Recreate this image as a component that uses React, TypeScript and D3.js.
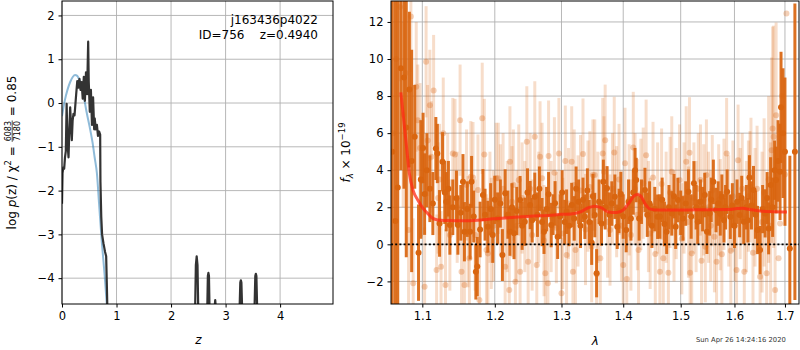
import { useEffect, useRef } from "react";
import * as d3 from "d3";

// ---- p(z) panel ----
const zVals = [0, 0.01, 0.025, 0.04, 0.055, 0.07, 0.085, 0.1, 0.12, 0.135, 0.15, 0.165, 0.18, 0.195, 0.21, 0.23, 0.26, 0.28, 0.3, 0.32, 0.34, 0.36, 0.38, 0.4, 0.42, 0.44, 0.46, 0.48, 0.49, 0.51, 0.53, 0.55, 0.57, 0.59, 0.6, 0.62, 0.64, 0.66, 0.68, 0.7, 0.705, 0.72, 0.735, 0.76, 0.79, 0.81, 0.825, 0.84, 1.5,
  2.435, 2.455, 2.47, 2.485, 2.505, 2.58, 2.66, 2.675, 2.685, 2.695, 2.71, 2.76, 2.795, 2.81, 2.825, 2.9, 3.25, 3.27, 3.28, 3.29, 3.31, 3.42, 3.525, 3.545, 3.555, 3.565, 3.585, 4.0];
const logPz = [-2.3, -1.6, -1.47, -1.5, -1.24, -1.1, -0.02, -0.9, -1.24, -0.6, -0.1, -0.5, -0.85, -0.4, -0.25, -0.28, 0.2, 0.5, 0.35, 0.55, 0.3, 0.48, 0.1, 0.6, 0.05, 0.7, 0.2, 1.4, 0.5, -0.2, 0.3, -0.5, 0.13, -0.6, -0.35, -0.6, -0.5, -0.75, -0.65, -0.72, -1.8, -2.6, -3.0, -3.2, -3.4, -3.5, -4.3, -5.2, -7,
  -5.2, -3.7, -3.5, -3.7, -5.2, -7, -5.0, -3.95, -3.88, -3.95, -5.0, -7, -4.75, -4.5, -4.75, -7, -5.0, -4.1, -4.05, -4.1, -5.0, -7, -5.0, -3.95, -3.9, -3.95, -5.0, -7];
const zPrior = [0, 0.05, 0.1, 0.15, 0.2, 0.24, 0.28, 0.32, 0.36, 0.4, 0.45, 0.51, 0.56, 0.6, 0.64, 0.68, 0.73, 0.78, 0.82, 0.86];
const logPzPrior = [-0.3, 0.05, 0.3, 0.48, 0.6, 0.64, 0.62, 0.52, 0.4, 0.15, -0.2, -0.56, -0.9, -1.25, -1.6, -2.3, -3.17, -3.9, -4.57, -5.2];
const zTicks = [0, 1, 2, 3, 4];
const pzTicks = [-4, -3, -2, -1, 0, 1, 2];

// ---- spectrum panel ----
const darkLam = [1.061, 1.065, 1.068, 1.072, 1.076, 1.079, 1.083, 1.086, 1.09, 1.095, 1.098, 1.101, 1.103, 1.106, 1.11, 1.114, 1.118, 1.12, 1.123, 1.127, 1.13, 1.132, 1.135, 1.137, 1.141, 1.146, 1.148, 1.152, 1.155, 1.157, 1.161, 1.165, 1.167, 1.17, 1.173, 1.175, 1.179, 1.183, 1.186, 1.19, 1.194, 1.197, 1.2, 1.204, 1.208, 1.211, 1.215, 1.219, 1.222, 1.225, 1.228, 1.232, 1.237, 1.24, 1.244, 1.248, 1.252, 1.255, 1.259, 1.263, 1.266, 1.27, 1.273, 1.277, 1.28, 1.284, 1.287, 1.29, 1.294, 1.298, 1.301, 1.305, 1.308, 1.312, 1.316, 1.32, 1.323, 1.327, 1.33, 1.334, 1.337, 1.341, 1.344, 1.348, 1.35, 1.353, 1.356, 1.36, 1.364, 1.367, 1.37, 1.373, 1.377, 1.381, 1.386, 1.39, 1.393, 1.396, 1.4, 1.405, 1.409, 1.413, 1.417, 1.42, 1.422, 1.427, 1.431, 1.437, 1.441, 1.445, 1.449, 1.454, 1.459, 1.463, 1.467, 1.471, 1.475, 1.479, 1.484, 1.488, 1.491, 1.495, 1.5, 1.504, 1.509, 1.514, 1.519, 1.524, 1.528, 1.531, 1.536, 1.54, 1.544, 1.548, 1.553, 1.556, 1.56, 1.565, 1.569, 1.573, 1.576, 1.58, 1.583, 1.586, 1.592, 1.596, 1.6, 1.605, 1.61, 1.614, 1.618, 1.623, 1.626, 1.629, 1.633, 1.637, 1.641, 1.645, 1.65, 1.655, 1.66, 1.664, 1.667, 1.671, 1.675, 1.679, 1.682, 1.686, 1.69, 1.692, 1.696, 1.7, 1.71, 1.7204];
const darkFlux = [5, 1.26, 3.07, 9.5, 9, 6.3, 8.35, 4.5, 5.8, -0.45, 3.5, 5.2, 2.71, 4, 3, 2.2, 5.17, 4.9, 1.13, 4.45, 2.8, 2.3, 3, 1.04, 2, 2.48, 1.04, 1.7, 3.37, 0.68, 1.9, 0.68, 3.37, 1.5, -1.48, -1.2, 0.8, 2.66, 1.6, 0.95, 1.9, 0.5, 2.4, 1.4, 2.2, -0.58, 2.75, 1.6, 0.68, 2, 0.6, 1.8, 2.39, 1, 1.22, 2.8, 2.12, 1.3, 2.57, 1.6, 3, 1.2, 0.68, 1.9, 2.7, 1.04, 1.6, 2.21, 0.41, 1.5, 2.8, 1.2, 1.76, 1, 2.12, 1.4, 3, 2.3, 1, 2.4, 1.49, 2.9, 1.2, 0.09, 2.6, 1.58, -1.56, 2.3, 1.13, 3.37, 2, 3.02, 1.6, 2.2, 2.57, 0.95, 1.8, 2.71, 1.5, 0.77, 2.3, 1.4, 2.8, 4, 3.47, 1.4, 2.3, 2.93, 1.6, 2.2, 1, 1.9, 1.49, 1.5, 2.4, 1.1, 0.68, 2, 1.67, 2.6, 0.95, 2.39, 1.7, 1.4, 2.2, 2.84, 1.5, 3.29, 2, 1.22, 2.3, 1.9, 2.66, 0.68, 1.67, 2.4, 3.37, 1.85, 2.2, 1.67, 2.57, 1.3, 2, 2.84, 1.49, 2.1, 1, 2.3, 1.58, 2.5, 1.22, 2, 1.3, 3.61, 2.1, 2.93, 1.6, 0.77, -0.31, 1.9, 1.67, 2.5, 0.86, 3.2, 2, 4, 3.47, 4.5, 3.91, 7.39, 6, 5, -0.22, 5];
const darkErr = [10, 14, 12, 5.5, 6, 7, 4.2, 6, 2.8, 2.6, 3.2, 1.9, 2.2, 2, 1.8, 1.7, 1.7, 1.6, 1.8, 1.6, 1.7, 1.6, 1.5, 1.6, 1.5, 1.5, 1.6, 1.5, 1.5, 1.6, 1.5, 1.5, 1.4, 1.4, 1.5, 1.6, 1.5, 1.4, 1.4, 1.4, 1.4, 1.5, 1.3, 1.4, 1.3, 1.4, 1.3, 1.3, 1.3, 1.3, 1.4, 1.3, 1.3, 1.3, 1.3, 1.3, 1.3, 1.2, 1.3, 1.2, 1.2, 1.3, 1.2, 1.2, 1.2, 1.2, 1.1, 1.2, 1.2, 1.2, 1.2, 1.2, 1.2, 1.1, 1.2, 1.2, 1.2, 1.2, 1.2, 1.2, 1.2, 1.2, 1.2, 1.2, 1.2, 1.2, 1.3, 1.2, 1.2, 1.2, 1.2, 1.2, 1.2, 1.2, 1.2, 1.2, 1.2, 1.2, 1.2, 1.2, 1.2, 1.2, 1.2, 1.2, 1.2, 1.2, 1.2, 1.2, 1.2, 1.2, 1.2, 1.2, 1.2, 1.2, 1.2, 1.2, 1.2, 1.2, 1.2, 1.2, 1.2, 1.2, 1.2, 1.2, 1.2, 1.2, 1.2, 1.2, 1.2, 1.2, 1.2, 1.2, 1.2, 1.2, 1.2, 1.2, 1.2, 1.2, 1.2, 1.2, 1.2, 1.2, 1.2, 1.2, 1.2, 1.2, 1.2, 1.2, 1.2, 1.2, 1.2, 1.2, 1.2, 1.2, 1.3, 1.3, 1.3, 1.3, 1.3, 1.3, 1.3, 1.4, 1.4, 1.5, 1.6, 1.6, 1.8, 2.2, 2.6, 3, 3.5, 4, 5, 8, 15, 2.8, 20];

const lightLam = [1.062, 1.066, 1.071, 1.075, 1.078, 1.082, 1.085, 1.088, 1.092, 1.094, 1.097, 1.099, 1.103, 1.105, 1.107, 1.11, 1.112, 1.115, 1.119, 1.121, 1.123, 1.125, 1.128, 1.131, 1.134, 1.137, 1.141, 1.144, 1.147, 1.151, 1.153, 1.157, 1.16, 1.162, 1.164, 1.166, 1.169, 1.172, 1.176, 1.178, 1.182, 1.185, 1.188, 1.19, 1.193, 1.195, 1.198, 1.202, 1.205, 1.208, 1.212, 1.215, 1.218, 1.221, 1.222, 1.225, 1.227, 1.23, 1.232, 1.235, 1.237, 1.24, 1.244, 1.247, 1.249, 1.252, 1.255, 1.259, 1.262, 1.265, 1.267, 1.27, 1.273, 1.275, 1.279, 1.28, 1.284, 1.289, 1.292, 1.296, 1.3, 1.302, 1.306, 1.308, 1.311, 1.316, 1.318, 1.32, 1.322, 1.326, 1.33, 1.334, 1.338, 1.342, 1.345, 1.348, 1.35, 1.353, 1.356, 1.358, 1.362, 1.366, 1.368, 1.37, 1.374, 1.378, 1.382, 1.385, 1.389, 1.393, 1.397, 1.4, 1.403, 1.406, 1.41, 1.413, 1.417, 1.42, 1.424, 1.426, 1.43, 1.434, 1.439, 1.443, 1.446, 1.451, 1.455, 1.459, 1.463, 1.466, 1.469, 1.474, 1.478, 1.481, 1.484, 1.488, 1.492, 1.498, 1.502, 1.506, 1.51, 1.514, 1.516, 1.517, 1.52, 1.524, 1.528, 1.532, 1.536, 1.538, 1.542, 1.545, 1.547, 1.551, 1.555, 1.558, 1.562, 1.566, 1.57, 1.573, 1.576, 1.58, 1.585, 1.589, 1.593, 1.597, 1.601, 1.604, 1.607, 1.611, 1.615, 1.619, 1.623, 1.627, 1.63, 1.632, 1.636, 1.64, 1.644, 1.65, 1.654, 1.658, 1.663, 1.667, 1.671, 1.673, 1.675, 1.677, 1.68, 1.682, 1.687, 1.69, 1.694, 1.7, 1.703];
const lightFlux = [6, 10, 12.8, 7, 9.25, 0.77, 12.3, -2.1, 8.5, 6.7, 5.2, 3.43, -2.29, 9.85, 5.6, 7.5, 4.72, 8.3, -1.39, 2.5, 3.5, -1.21, 6, -2.19, 3, 0.5, 4.9, 4.85, 2, 6.7, -1.48, -2.19, 3.2, 0.68, -0.75, 3.65, 3.6, 0.5, 2.93, -3, 6.8, 4.85, -0.3, -0.49, 2, 0.59, 1, 3.56, 3.56, 2.4, 3, -1.21, 1.5, -2.46, 4.45, 2.3, 3.2, -2.02, 1, 3.47, -1.48, 2.5, 1.5, 5.53, -0.94, 3, 0.5, 5.8, -1.12, 2, 4.72, 3.56, 0.2, -1.56, -2.1, 4.76, 1.5, 3.86, 0.9, 4.9, -2.64, 0.59, 4.49, -0.58, 2.2, 4.45, -1.48, 3.2, -0.31, 1.8, 2.9, 4.87, 0.8, 2.6, 3.1, -0.13, 3.74, 3.74, -1.62, 2, -0.75, 4.9, 3.91, 5.62, 1.2, 0.77, 3, 4.96, 2.3, 3.5, 1, -1.12, 4.37, -1.87, 2.4, 0.5, 5.23, 3, 1.6, -0.31, 2.7, 3.3, 4.81, 1.5, 0.59, 3.61, -0.52, 2.5, -1.48, 3.25, -0.75, 2, -1.53, 2.8, 3.91, 1, 2.2, 3.47, 0.3, 2.5, 4.45, 1.2, 4.94, -1.53, -0.49, 2.5, 1.5, 3, 3.47, -0.88, 2.4, -0.13, 3.74, 2, 1, 2.9, 0.41, -0.94, 2.4, 1.6, -0.54, 2.7, 4.9, 1.8, -0.34, 2.6, 1, -1.39, 4.54, 2.2, 3, -1.48, 1.5, 2.6, 3.11, 3.83, -0.45, 2, 3, -1.75, 1.2, 2.8, -1.56, 3.5, 1, 5.08, 6.25, 5.8, -2.46, 6.97, -0.75, 1.13, 8, 3.77, 12.45];
const lightErr = [8, 6, 4, 5, 3.5, 4, 3, 3.5, 3.5, 3, 3.5, 3, 3.2, 3, 3, 3, 3, 3, 3, 3, 3, 3, 3, 3, 3, 3, 3, 3, 3, 3, 3, 3, 3, 3, 3, 3, 3, 3, 3, 3, 3, 3, 3, 3, 3, 3, 3, 3, 3, 3, 3, 3, 3, 3, 3, 3, 3, 3, 3, 3, 3, 3, 3, 3, 3, 3, 3, 3, 3, 3, 3, 3, 3, 3, 3, 3, 3, 3, 3, 3, 3, 3, 3, 3, 3, 3, 3, 3, 3, 3, 3, 3, 3, 3, 3, 3, 3, 3, 3, 3, 3, 3, 3, 3, 3, 3, 3, 3, 3, 3, 3, 3, 3, 3, 3, 3, 3, 3, 3, 3, 3, 3, 3, 3, 3, 3, 3, 3, 3, 3, 3, 3, 3, 3, 3, 3, 3, 3, 3, 3, 3, 3, 3, 3, 3, 3, 3, 3, 3, 3, 3, 3, 3, 3, 3, 3, 3, 3, 3, 3, 3, 3, 3, 3, 3, 3, 3, 3, 3, 3, 3, 3, 3, 3, 3, 3, 3, 3.2, 3.4, 3.6, 3.8, 4, 4.2, 4.5, 4.5, 5, 5.5, 6, 7, 5];

const modelLam = [1.072, 1.0755, 1.079, 1.083, 1.088, 1.094, 1.1, 1.107, 1.111, 1.114, 1.119, 1.125, 1.135, 1.155, 1.175, 1.198, 1.225, 1.252, 1.28, 1.3, 1.315, 1.33, 1.343, 1.353, 1.363, 1.375, 1.389, 1.4, 1.41, 1.418, 1.424, 1.43, 1.437, 1.446, 1.46, 1.5, 1.55, 1.59, 1.605, 1.615, 1.63, 1.65, 1.68, 1.704];
const modelFlux = [8.2, 6.8, 5.4, 3.83, 2.9, 2.39, 2.0, 1.67, 1.5, 1.4, 1.33, 1.3, 1.28, 1.27, 1.3, 1.38, 1.45, 1.52, 1.56, 1.62, 1.64, 1.75, 1.98, 2.06, 1.98, 1.75, 1.72, 1.85, 2.25, 2.6, 2.69, 2.6, 2.2, 1.9, 1.85, 1.85, 1.87, 1.88, 1.93, 1.95, 1.88, 1.8, 1.76, 1.75];
const lamTicks = [1.1, 1.2, 1.3, 1.4, 1.5, 1.6, 1.7];
const fluxTicks = [-2, 0, 2, 4, 6, 8, 10, 12];

const FONT = "DejaVu Sans";
const ORANGE = "#d9650f";

export default function App() {
  const ref = useRef<SVGSVGElement>(null);

  useEffect(() => {
    const svg = d3.select(ref.current);
    svg.selectAll("*").remove();
    svg.attr("font-family", FONT);

    const defs = svg.append("defs");
    const L = { x0: 62, x1: 333, y0: 1, y1: 304 };
    const R = { x0: 391, x1: 799, y0: 1, y1: 304 };
    defs.append("clipPath").attr("id", "clipL").append("rect")
      .attr("x", L.x0).attr("y", L.y0).attr("width", L.x1 - L.x0).attr("height", L.y1 - L.y0);
    defs.append("clipPath").attr("id", "clipR").append("rect")
      .attr("x", R.x0).attr("y", R.y0).attr("width", R.x1 - R.x0).attr("height", R.y1 - R.y0);

    // ---------- left panel ----------
    const xz = d3.scaleLinear().domain([0, 4.97]).range([L.x0, L.x1]);
    const yp = d3.scaleLinear().domain([-4.59, 2.33]).range([L.y1, L.y0]);

    const gl = svg.append("g");
    gl.selectAll(".gx").data(zTicks).enter().append("line")
      .attr("x1", d => xz(d)).attr("x2", d => xz(d)).attr("y1", L.y0).attr("y2", L.y1)
      .attr("stroke", "#b0b0b0").attr("stroke-width", 0.9);
    gl.selectAll(".gy").data(pzTicks).enter().append("line")
      .attr("x1", L.x0).attr("x2", L.x1).attr("y1", d => yp(d)).attr("y2", d => yp(d))
      .attr("stroke", "#b0b0b0").attr("stroke-width", 0.9);

    const plot = gl.append("g").attr("clip-path", "url(#clipL)");
    const prior = zPrior.map((z, i) => [z, logPzPrior[i]] as [number, number]);
    plot.append("path").datum(prior)
      .attr("d", d3.line().x(d => xz(d[0])).y(d => yp(d[1])).curve(d3.curveMonotoneX))
      .attr("fill", "none").attr("stroke", "#1f77b4").attr("stroke-opacity", 0.5).attr("stroke-width", 2);
    const pz = zVals.map((z, i) => [z, logPz[i]] as [number, number]);
    plot.append("path").datum(pz)
      .attr("d", d3.line().x(d => xz(d[0])).y(d => yp(d[1])))
      .attr("fill", "none").attr("stroke", "#333").attr("stroke-width", 2.2).attr("stroke-linejoin", "round");

    gl.append("rect").attr("x", L.x0).attr("y", L.y0).attr("width", L.x1 - L.x0).attr("height", L.y1 - L.y0)
      .attr("fill", "none").attr("stroke", "#000").attr("stroke-width", 1);

    gl.append("g").attr("transform", `translate(0,${L.y1})`)
      .call(d3.axisBottom(xz).tickValues(zTicks).tickFormat(d3.format("d")).tickSize(3.5).tickPadding(4))
      .call(g => g.select(".domain").remove());
    gl.append("g").attr("transform", `translate(${L.x0},0)`)
      .call(d3.axisLeft(yp).tickValues(pzTicks).tickFormat(d => d3.format("d")(d as number).replace("-", "\u2212")).tickSize(3.5).tickPadding(4))
      .call(g => g.select(".domain").remove());

    gl.append("text").attr("x", 318).attr("y", 24).attr("text-anchor", "end")
      .attr("font-size", 12).text("j163436p4022");
    gl.append("text").attr("x", 318).attr("y", 39).attr("text-anchor", "end")
      .attr("font-size", 12).attr("xml:space", "preserve").text("ID=756    z=0.4940");

    gl.append("text").attr("x", xz(2.5)).attr("y", 344).attr("text-anchor", "middle")
      .attr("font-size", 12).attr("font-style", "italic").text("z");

    // y label of p(z)
    const lab = svg.append("g");
    const t1 = lab.append("text").attr("font-size", 12);
    t1.append("tspan").text("log ");
    t1.append("tspan").attr("font-style", "italic").text("p");
    t1.append("tspan").text("(z) / \u03c7");
    t1.append("tspan").attr("font-size", 8.5).attr("dy", -5).text("2");
    t1.append("tspan").attr("dy", 5).attr("xml:space", "preserve").text(" = ");
    const w1 = (t1.node() as SVGTextElement).getComputedTextLength();
    const num = lab.append("text").attr("font-size", 8).attr("x", w1 + 1).attr("y", -5.5).text("6083");
    lab.append("text").attr("font-size", 8).attr("x", w1 + 1).attr("y", 3.5).text("7180");
    const wf = (num.node() as SVGTextElement).getComputedTextLength();
    lab.append("line").attr("x1", w1 + 0.5).attr("x2", w1 + wf + 1.5).attr("y1", -3.8).attr("y2", -3.8)
      .attr("stroke", "#000").attr("stroke-width", 0.7);
    const t3 = lab.append("text").attr("font-size", 12).attr("x", w1 + wf + 2)
      .attr("xml:space", "preserve").text(" = 0.85");
    const wTot = w1 + wf + 2 + (t3.node() as SVGTextElement).getComputedTextLength();
    lab.attr("transform", `translate(16,${(L.y0 + L.y1) / 2 + wTot / 2}) rotate(-90)`);

    // ---------- right panel ----------
    const xl = d3.scaleLog().domain([1.0594, 1.7289]).range([R.x0, R.x1]);
    const yf = d3.scaleLinear().domain([-3.22, 13.13]).range([R.y1, R.y0]);

    const gr = svg.append("g");
    gr.selectAll(".gx").data(lamTicks).enter().append("line")
      .attr("x1", d => xl(d)).attr("x2", d => xl(d)).attr("y1", R.y0).attr("y2", R.y1)
      .attr("stroke", "#b0b0b0").attr("stroke-width", 0.9);
    gr.selectAll(".gy").data(fluxTicks).enter().append("line")
      .attr("x1", R.x0).attr("x2", R.x1).attr("y1", d => yf(d)).attr("y2", d => yf(d))
      .attr("stroke", "#b0b0b0").attr("stroke-width", 0.9);

    const pr = gr.append("g").attr("clip-path", "url(#clipR)");
    const light = lightLam.map((l, i) => ({ l, f: lightFlux[i], e: lightErr[i] }));
    const dark = darkLam.map((l, i) => ({ l, f: darkFlux[i], e: darkErr[i] }));

    pr.selectAll(".lbar").data(light).enter().append("line")
      .attr("x1", d => xl(d.l)).attr("x2", d => xl(d.l))
      .attr("y1", d => yf(d.f - d.e)).attr("y2", d => yf(d.f + d.e))
      .attr("stroke", ORANGE).attr("stroke-opacity", 0.22).attr("stroke-width", 3);
    pr.selectAll(".ldot").data(light).enter().append("circle")
      .attr("cx", d => xl(d.l)).attr("cy", d => yf(d.f)).attr("r", 3)
      .attr("fill", ORANGE).attr("fill-opacity", 0.3);

    pr.selectAll(".dbar").data(dark).enter().append("line")
      .attr("x1", d => xl(d.l)).attr("x2", d => xl(d.l))
      .attr("y1", d => yf(d.f - d.e)).attr("y2", d => yf(d.f + d.e))
      .attr("stroke", ORANGE).attr("stroke-opacity", 0.92).attr("stroke-width", 3);
    pr.selectAll(".ddot").data(dark).enter().append("circle")
      .attr("cx", d => xl(d.l)).attr("cy", d => yf(d.f)).attr("r", 3)
      .attr("fill", ORANGE);

    pr.append("line").attr("x1", R.x0).attr("x2", R.x1).attr("y1", yf(0)).attr("y2", yf(0))
      .attr("stroke", "#000").attr("stroke-width", 1.8).attr("stroke-dasharray", "2,2.2");

    const model = modelLam.map((l, i) => [l, modelFlux[i]] as [number, number]);
    pr.append("path").datum(model)
      .attr("d", d3.line().x(d => xl(d[0])).y(d => yf(d[1])).curve(d3.curveMonotoneX))
      .attr("fill", "none").attr("stroke", "#ff2a14").attr("stroke-opacity", 0.75).attr("stroke-width", 3);

    gr.append("rect").attr("x", R.x0).attr("y", R.y0).attr("width", R.x1 - R.x0).attr("height", R.y1 - R.y0)
      .attr("fill", "none").attr("stroke", "#000").attr("stroke-width", 1);

    gr.append("g").attr("transform", `translate(0,${R.y1})`)
      .call(d3.axisBottom(xl).tickValues(lamTicks).tickFormat(d3.format(".1f")).tickSize(3.5).tickPadding(4))
      .call(g => g.select(".domain").remove());
    gr.append("g").attr("transform", `translate(${R.x0},0)`)
      .call(d3.axisLeft(yf).tickValues(fluxTicks).tickFormat(d => d3.format("d")(d as number).replace("-", "\u2212")).tickSize(3.5).tickPadding(4))
      .call(g => g.select(".domain").remove());

    gr.append("text").attr("x", xl(1.4)! - 28).attr("y", 345).attr("text-anchor", "middle")
      .attr("font-size", 12).attr("font-style", "italic").text("\u03bb");

    const lab2 = gr.append("text").attr("font-size", 12)
      .attr("transform", `translate(350,${(R.y0 + R.y1) / 2}) rotate(-90)`).attr("text-anchor", "middle");
    lab2.append("tspan").attr("font-style", "italic").text("f");
    lab2.append("tspan").attr("font-style", "italic").attr("font-size", 8.5).attr("dy", 2.5).text("\u03bb");
    lab2.append("tspan").attr("dy", -2.5).attr("xml:space", "preserve").text(" \u00d7 10");
    lab2.append("tspan").attr("font-size", 8.5).attr("dy", -5).text("\u221219");

    // timestamp
    svg.append("text").attr("x", 696).attr("y", 342).attr("text-anchor", "start")
      .attr("font-size", 6.8).attr("fill", "#333").text("Sun Apr 26 14:24:16 2020");

    svg.selectAll(".tick text").attr("font-size", 11.5).attr("font-family", FONT).attr("fill", "#000");
    svg.selectAll(".tick line").attr("stroke", "#000");
  }, []);

  return (
    <svg ref={ref} width={800} height={350}
      style={{ position: "absolute", left: 0, top: 0, background: "#fff" }} />
  );
}
